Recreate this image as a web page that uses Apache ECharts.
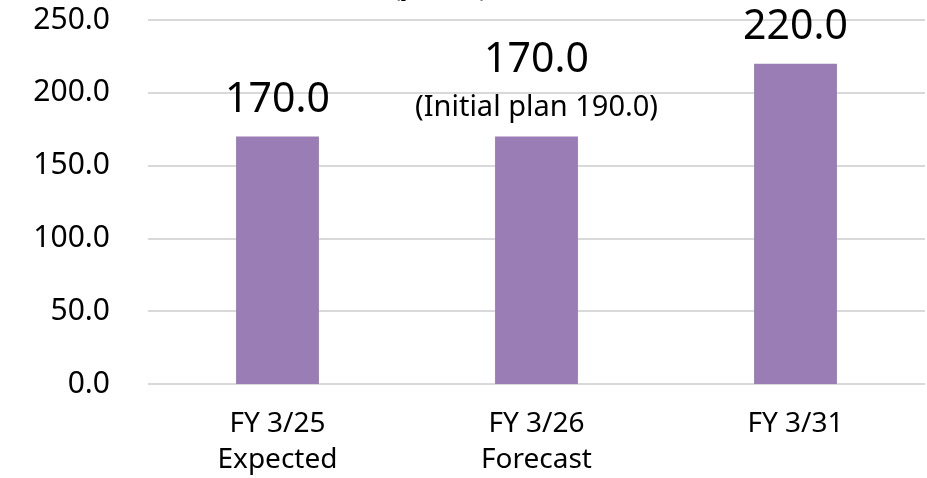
<!DOCTYPE html>
<html><head><meta charset="utf-8">
<script src="https://cdn.jsdelivr.net/npm/echarts@6/dist/echarts.min.js"></script>
<style>html,body{margin:0;padding:0;background:#fff}#c{width:927px;height:478px}</style>
</head><body><div id="c"></div>
<script>
const categories = ['FY 3/25\nExpected', 'FY 3/26\nForecast', 'FY 3/31'];
const values = [170.0, 170.0, 220.0];
const notes = ['', '(Initial plan 190.0)', ''];
const unitText = '(JPY bn)';
const yTicks = {min: 0, max: 250, interval: 50};

const FONT = '"Noto Sans"';
const chart = echarts.init(document.getElementById('c'));
chart.setOption({
  animation: false,
  textStyle: {fontFamily: FONT},
  title: {
    text: unitText, left: 388, top: -29,
    textStyle: {fontFamily: FONT, fontSize: 26, fontWeight: 'normal', color: '#000'}
  },
  grid: {left: 148, right: 2, top: 20, bottom: 92, containLabel: false},
  xAxis: {
    type: 'category', data: categories,
    axisLine: {show: false}, axisTick: {show: false},
    axisLabel: {fontSize: 28, color: '#000', lineHeight: 36, margin: 22, fontFamily: FONT}
  },
  yAxis: {
    type: 'value', min: yTicks.min, max: yTicks.max, interval: yTicks.interval,
    axisLabel: {fontSize: 30, color: '#000', margin: 38, fontFamily: FONT,
      formatter: v => v.toFixed(1)},
    splitLine: {lineStyle: {color: '#d9d9d9', width: 2}},
    axisLine: {show: false}, axisTick: {show: false}
  },
  series: [{
    type: 'bar', barWidth: '32%',
    data: values.map((v, i) => ({value: v, note: notes[i]})),
    itemStyle: {color: '#9b7db6'},
    label: {
      show: true, position: 'top', distance: 14, color: '#000', fontFamily: FONT,
      formatter: p => p.data.note ? '{w|' + p.value.toFixed(1) + '}\n{n|' + p.data.note + '}' : '{v|' + p.value.toFixed(1) + '}',
      rich: {
        v: {fontSize: 41, lineHeight: 44, color: '#000', fontFamily: FONT},
        w: {fontSize: 41, lineHeight: 64, color: '#000', fontFamily: FONT},
        n: {fontSize: 29, lineHeight: 30, color: '#000', fontFamily: FONT}
      }
    }
  }]
});
</script></body></html>
